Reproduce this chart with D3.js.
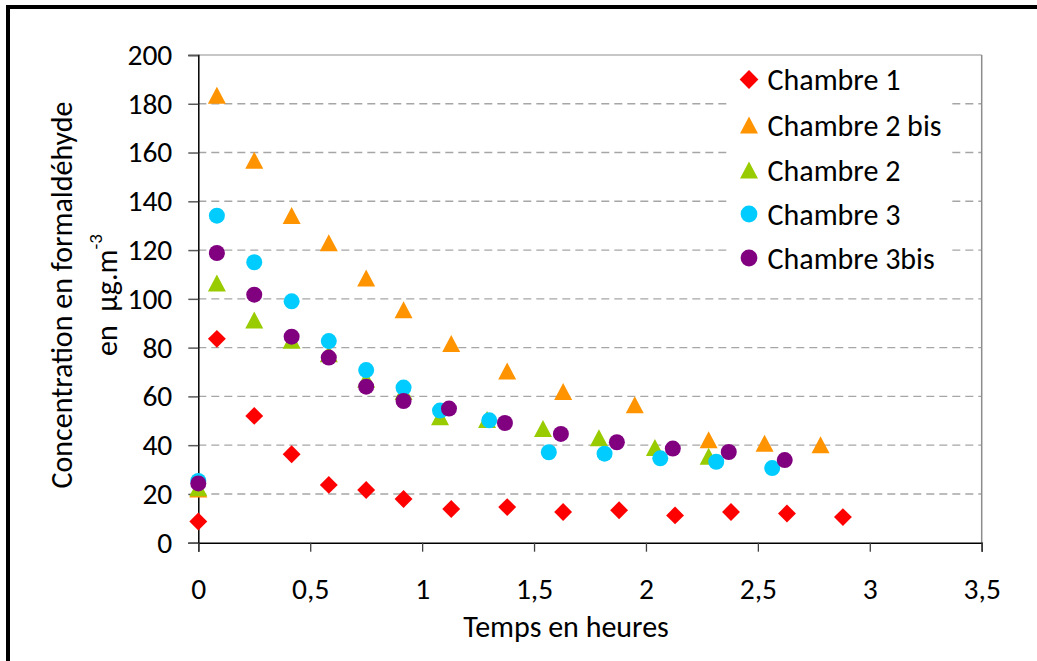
<!DOCTYPE html>
<html>
<head>
<meta charset="utf-8">
<script src="https://cdn.jsdelivr.net/npm/d3@7/dist/d3.min.js"></script>
<style>
  html, body { margin: 0; padding: 0; background: #fff; }
  svg { display: block; }
  text { font-family: Carlito, Calibri, Lato, "Open Sans", sans-serif; fill: #000; }
</style>
</head>
<body>
<svg id="chart" width="1037" height="661"></svg>
<script>
// Formaldehyde concentration (µg.m-3) over time (hours) in each chamber
const seriesNames = ["Chambre 1", "Chambre 2 bis", "Chambre 2", "Chambre 3", "Chambre 3bis"];

const ch1Time = [0, 0.083, 0.25, 0.417, 0.583, 0.75, 0.917, 1.13, 1.38, 1.63, 1.88, 2.13, 2.38, 2.63, 2.88];
const ch1Conc = [8.7, 83.6, 52, 36.3, 23.7, 21.6, 17.9, 13.8, 14.6, 12.6, 13.3, 11.2, 12.6, 12.0, 10.5];

const ch2bisTime = [0, 0.083, 0.25, 0.417, 0.583, 0.75, 0.917, 1.13, 1.38, 1.63, 1.95, 2.28, 2.53, 2.78];
const ch2bisConc = [22, 183.5, 156.8, 134.2, 123, 108.5, 95.5, 81.7, 70.4, 62, 56.6, 42.2, 40.8, 40.2];

const ch2Time = [0, 0.083, 0.25, 0.417, 0.583, 0.75, 0.917, 1.08, 1.29, 1.54, 1.79, 2.04, 2.28];
const ch2Conc = [22.5, 106.5, 91.3, 83, 77.5, 67, 62, 51.6, 50.5, 46.8, 43, 39, 35.5];

const ch3Time = [0, 0.083, 0.25, 0.417, 0.583, 0.75, 0.917, 1.08, 1.3, 1.566, 1.815, 2.064, 2.314, 2.564];
const ch3Conc = [25.3, 134.1, 115, 99, 82.7, 70.8, 63.6, 54.2, 50.2, 37.1, 36.5, 34.6, 33.2, 30.6];

const ch3bisTime = [0, 0.083, 0.25, 0.417, 0.583, 0.75, 0.917, 1.12, 1.37, 1.62, 1.87, 2.12, 2.37, 2.62];
const ch3bisConc = [24.3, 118.8, 101.7, 84.5, 75.9, 64, 58.1, 55, 49.1, 44.6, 41.2, 38.6, 37.2, 33.9];

const xTicks = [0, 0.5, 1, 1.5, 2, 2.5, 3, 3.5];
const yTicks = [0, 20, 40, 60, 80, 100, 120, 140, 160, 180, 200];

const series = [
  { name: seriesNames[0], t: ch1Time, c: ch1Conc, shape: "diamond", color: "#FF0000" },
  { name: seriesNames[1], t: ch2bisTime, c: ch2bisConc, shape: "triangle", color: "#FF9400" },
  { name: seriesNames[2], t: ch2Time, c: ch2Conc, shape: "triangle", color: "#99CC00" },
  { name: seriesNames[3], t: ch3Time, c: ch3Conc, shape: "circle", color: "#00CCFF" },
  { name: seriesNames[4], t: ch3bisTime, c: ch3bisConc, shape: "circle", color: "#800080" }
];

const svg = d3.select("#chart");

// plot frame
const plotLeft = 198.3, plotRight = 981.7, plotTop = 55, plotBottom = 542.7;
const x = d3.scaleLinear().domain([0, 3.5]).range([plotLeft, plotRight]);
const y = d3.scaleLinear().domain([0, 200]).range([plotBottom, plotTop]);

// outer frame (top and left edges)
svg.append("rect").attr("x", 6).attr("y", 5).attr("width", 1031).attr("height", 4).attr("fill", "#000");
svg.append("rect").attr("x", 6).attr("y", 5).attr("width", 4).attr("height", 656).attr("fill", "#000");

// dashed horizontal gridlines
svg.append("g").selectAll("line")
  .data(yTicks.filter(v => v > 0 && v < 200))
  .join("line")
  .attr("x1", plotLeft).attr("x2", plotRight)
  .attr("y1", d => y(d)).attr("y2", d => y(d))
  .attr("stroke", "#A6A6A6").attr("stroke-width", 1.4)
  .attr("stroke-dasharray", "8,5");

// plot-area border: top and right
svg.append("line").attr("x1", plotLeft).attr("x2", plotRight).attr("y1", y(200)).attr("y2", y(200))
  .attr("stroke", "#B4B4B4").attr("stroke-width", 1.5);
svg.append("line").attr("x1", plotRight).attr("x2", plotRight).attr("y1", plotTop).attr("y2", plotBottom)
  .attr("stroke", "#8C8C8C").attr("stroke-width", 1.5);

// axes
const yAxis = d3.axisLeft(y).tickValues(yTicks).tickSize(10).tickPadding(16).tickFormat(d3.format("d"));
const gy = svg.append("g").attr("transform", `translate(${plotLeft},0)`).call(yAxis);
gy.select(".domain").attr("stroke", "#000").attr("stroke-width", 1.5);
gy.selectAll(".tick line").attr("stroke", "#595959").attr("stroke-width", 1.5);
gy.selectAll(".tick text").attr("font-size", 29.5).attr("fill", "#000")
  .style("font-family", "Carlito, Calibri, Lato, sans-serif");

const xAxis = d3.axisBottom(x).tickValues(xTicks).tickSize(9).tickPadding(26)
  .tickFormat(d => String(d).replace(".", ","));
const gx = svg.append("g").attr("transform", `translate(0,${plotBottom})`).call(xAxis);
gx.select(".domain").attr("stroke", "#000").attr("stroke-width", 1.5);
gx.selectAll(".tick line").attr("stroke", "#404040").attr("stroke-width", 1.3);
gx.selectAll(".tick text").attr("font-size", 29.5).attr("fill", "#000")
  .style("font-family", "Carlito, Calibri, Lato, sans-serif");

// axis titles
svg.append("text")
  .attr("x", 566).attr("y", 626)
  .attr("text-anchor", "middle").attr("dominant-baseline", "central")
  .attr("font-size", 30)
  .text("Temps en heures");

const yTitle = svg.append("g").attr("transform", "translate(61,295) rotate(-90)");
yTitle.append("text")
  .attr("x", 0).attr("y", 0)
  .attr("text-anchor", "middle").attr("dominant-baseline", "central")
  .attr("font-size", 30)
  .text("Concentration en formaldéhyde");
const yTitle2 = svg.append("g").attr("transform", "translate(106,295) rotate(-90)");
const t2 = yTitle2.append("text")
  .attr("x", 0).attr("y", 0)
  .attr("text-anchor", "middle").attr("dominant-baseline", "central")
  .attr("font-size", 30);
t2.append("tspan").text("en\u00A0\u00A0µg.m");
t2.append("tspan").attr("dy", -11).attr("font-size", 19).text("-3");

// marker symbols
function symbolPath(shape, scale) {
  const s = scale || 1;
  if (shape === "diamond") return d3.symbol().type(d3.symbolSquare).size(160 * s)();
  if (shape === "triangle") return "M0,-8.5L9,8.5L-9,8.5Z";
  return d3.symbol().type(d3.symbolCircle).size(201 * s)();
}

series.forEach(s => {
  const pts = s.t.map((t, i) => [t, s.c[i]]);
  svg.append("g").selectAll("path")
    .data(pts)
    .join("path")
    .attr("d", symbolPath(s.shape))
    .attr("transform", d => `translate(${x(d[0])},${y(d[1])})` + (s.shape === "diamond" ? " rotate(45)" : ""))
    .attr("fill", s.color);
});

// legend
const legend = svg.append("g");
legend.append("rect").attr("x", 729).attr("y", 56.5).attr("width", 222).attr("height", 227).attr("fill", "#fff");
const legendRows = [79.5, 125, 170, 214, 258];
series.forEach((s, i) => {
  const g = legend.append("g").attr("transform", `translate(749,${legendRows[i]})`);
  g.append("path")
    .attr("d", symbolPath(s.shape, 1.1))
    .attr("transform", s.shape === "diamond" ? "rotate(45)" : null)
    .attr("fill", s.color);
  g.append("text").attr("x", 18.5).attr("y", 0)
    .attr("dominant-baseline", "central")
    .attr("font-size", 30)
    .text(s.name);
});
</script>
</body>
</html>
